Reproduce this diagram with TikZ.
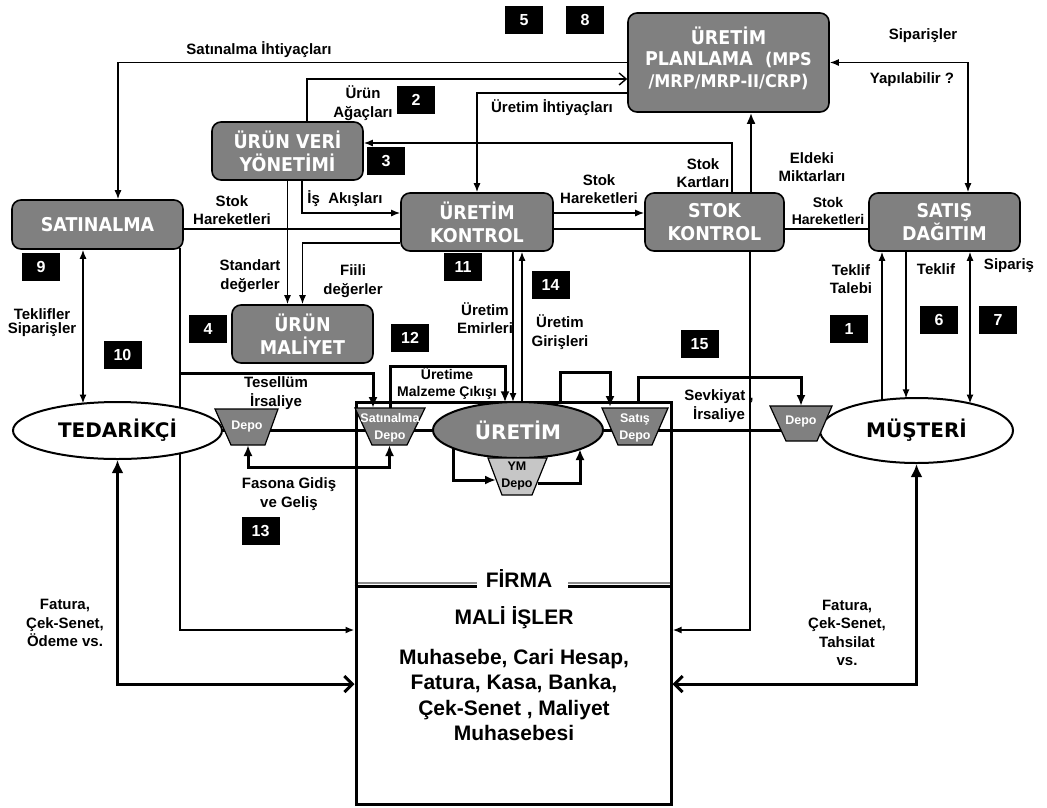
\documentclass[tikz,border=0pt]{standalone}
\usepackage{fontspec}
\setmainfont{Liberation Sans}
\newfontfamily\boxfont{DejaVu Sans}
\newfontfamily\boxnarrow{DejaVu Sans}[FakeStretch=0.92]
\usetikzlibrary{arrows.meta,calc,backgrounds,shapes.geometric}
\definecolor{boxgray}{HTML}{808080}
\definecolor{ymgray}{HTML}{C6C6C6}
\definecolor{rulegray}{HTML}{8C8C8C}

\tikzset{
  smtip/.tip={Latex[length=9pt,width=7pt]},
  mdtip/.tip={Latex[length=11pt,width=9pt]},
  bgtip/.tip={Latex[length=13pt,width=12pt]},
  barbthin/.tip={Straight Barb[length=7pt,width=12pt]},
  barbthick/.tip={Straight Barb[length=8pt,width=16pt]},
  procbox/.style={draw=black, line width=1.6pt, fill=boxgray, rounded corners=9pt,
    text=white, font=\boxnarrow\bfseries\fontsize{19}{23}\selectfont, align=center, inner sep=0pt},
  party/.style={ellipse, draw=black, line width=2pt, fill=white,
    font=\boxfont\bfseries\fontsize{20}{24}\selectfont, inner sep=0pt},
  numbox/.style={fill=black, text=white, font=\bfseries\fontsize{16}{16}\selectfont,
    minimum width=38pt, minimum height=28pt, inner sep=0pt},
  lbl/.style={font=\bfseries\fontsize{15}{18.5}\selectfont, align=center, inner sep=0pt},
  depotxt/.style={text=white, font=\bfseries\fontsize{12.5}{16.5}\selectfont, align=center, inner sep=0pt},
  deposhape/.style={draw=black, line width=1.2pt, fill=boxgray},
  thinln/.style={line width=1.4pt},
  midln/.style={line width=2.2pt},
  thickln/.style={line width=3pt},
  flowln/.style={line width=2.7pt},
}

\begin{document}
\begin{tikzpicture}[x=1pt,y=-1pt]
\useasboundingbox (0,0) rectangle (1047,807);

% ---------- firm frame ----------
\node[draw=black, line width=3pt, minimum width=315pt, minimum height=402pt, inner sep=0pt] (firma) at (513.5,603) {};

% ---------- process boxes ----------
\node[procbox, minimum width=201pt, minimum height=99pt] (plan) at (728.5,62.5) {};
\node[text=white, font=\boxnarrow\bfseries\fontsize{19}{21.5}\selectfont, align=center, inner sep=0pt] (plantxt) at (728.5,58)
  {ÜRETİM\\PLANLAMA~ {\fontsize{17.5}{21.5}\selectfont (MPS}\\{\fontsize{17.5}{21.5}\selectfont /MRP/MRP-II/CRP)}};
\node[procbox, minimum width=151pt, minimum height=58pt] (urunveri) at (287.5,151) {ÜRÜN VERİ\\YÖNETİMİ};
\node[procbox, minimum width=171pt, minimum height=49pt] (satinalma) at (97.5,224.5) {SATINALMA};
\node[procbox, minimum width=152pt, minimum height=58pt] (uretimkontrol) at (477,222) {ÜRETİM\\KONTROL};
\node[procbox, minimum width=139pt, minimum height=58pt] (stokkontrol) at (714.5,222) {STOK\\KONTROL};
\node[procbox, minimum width=151pt, minimum height=58pt] (satis) at (944.5,222) {SATIŞ\\DAĞITIM};
\node[procbox, minimum width=141pt, minimum height=58pt] (maliyet) at (302.5,334) {ÜRÜN\\MALİYET};

% ---------- partners and production ----------
\node[party, minimum width=209pt, minimum height=57pt] (tedarikci) at (117.5,430.5) {TEDARİKÇİ};
\node[party, minimum width=193pt, minimum height=65pt] (musteri) at (916.5,430.5) {MÜŞTERİ};
\node[party, fill=boxgray, text=white, minimum width=170pt, minimum height=56pt] (uretim) at (518,430) {ÜRETİM};

% ---------- stores (trapezoids) ----------
\path[deposhape] (215,409) -- (278,409) -- (265,445) -- (231,445) -- cycle;
\node[depotxt] (depoL) at (247,426) {Depo};
\path[deposhape] (355,408) -- (425,408) -- (407,445) -- (372,445) -- cycle;
\node[depotxt] (depoS) at (390,428) {Satınalma\\Depo};
\path[deposhape] (602,408) -- (668,408) -- (652,445) -- (618,445) -- cycle;
\node[depotxt] (depoT) at (635,428) {Satış\\Depo};
\path[deposhape, fill=ymgray] (488,458) -- (547,458) -- (532,495) -- (502,495) -- cycle;
\node[depotxt, text=black] (depoYM) at (517,476) {YM\\Depo};
\path[deposhape] (770,406) -- (832,406) -- (817,441) -- (786,441) -- cycle;
\node[depotxt] (depoR) at (801,421) {Depo};

\coordinate (dLb) at (248,445);
\coordinate (sDb) at (389.5,445);
\coordinate (sDin) at (373,408);
\coordinate (sDout) at (390,408);
\coordinate (stDin) at (610,407);
\coordinate (dRt) at (801,406);
\coordinate (ymL) at (496,480);
\coordinate (ymR) at (538,483);
\coordinate (tesA) at (180,373);

% ---------- connectors ----------
\begin{pgfonlayer}{background}
\fill[white] (0,0) rectangle (1047,807);

% material flow line
\draw[flowln] (tedarikci.east) -- (musteri.west);

% planning links
\draw[thinln,-smtip] (plan.west) -| ($(satinalma.north)+(20.5,0)$);
\draw[thinln,-barbthin] ($(urunveri.north)+(19.5,0)$) |- ($(plan.west)+(0,16.5)$);
\draw[thinln,-smtip] ($(plan.west)+(0,30.5)$) -| (uretimkontrol.north);
\draw[thinln,-smtip] ($(stokkontrol.north)+(17.5,0)$) |- ($(urunveri.east)+(0,-8)$);
\draw[midln,-mdtip] ($(stokkontrol.north)+(36.5,0)$) -- ($(plan.south)+(22.5,0)$);
\draw[thinln,smtip-smtip] (plan.east) -| ($(satis.north)+(23.5,0)$);

% product data links
\draw[thinln,-smtip] ($(urunveri.south)+(14.5,0)$) |- ($(uretimkontrol.west)+(0,-9)$);
\draw[thinln,-smtip] (urunveri.south) -- ($(maliyet.north)+(-15,0)$);
\draw[thinln,-smtip] ($(uretimkontrol.west)+(0,21)$) -| (maliyet.north);

% stock movement backbone
\draw[midln] ($(satinalma.east)+(0,4.5)$) -- ($(uretimkontrol.west)+(0,7)$);
\draw[midln] ($(uretimkontrol.east)+(0,7)$) -- ($(stokkontrol.west)+(0,7)$);
\draw[midln] ($(stokkontrol.east)+(0,7)$) -- ($(satis.west)+(0,7)$);
\draw[thinln,-smtip] ($(uretimkontrol.east)+(0,-9)$) -- ($(stokkontrol.west)+(0,-9)$);

% purchasing side
\draw[midln,-smtip] ($(satinalma.south)+(82.5,-2)$) |- ($(firma.west)+(0,27)$);
\draw[thickln,-mdtip] (tesA) -| (sDin);
\draw[thinln,smtip-smtip] ($(satinalma.south)+(-14.5,0)$) -- ($(tedarikci.center)+(-34.5,-27)$);
\draw[thickln,bgtip-barbthick] (tedarikci.south) |- ($(firma.west)+(0,81)$);
\draw[thickln,mdtip-mdtip] (dLb) -- ++(0,22) -| (sDb);

% production
\draw[thickln,-mdtip] (sDout) -- ++(0,-42) -| ($(uretim.center)+(-13,-27.7)$);
\draw[thinln,-smtip] ($(uretimkontrol.south)+(36,0)$) -- ($(uretim.center)+(-5,-28)$);
\draw[thinln,-smtip] ($(uretim.center)+(4,-28)$) -- ($(uretimkontrol.south)+(45,0)$);
\draw[thickln,-mdtip] ($(uretim.center)+(-65,18)$) |- (ymL);
\draw[thickln,-mdtip] (ymR) -| ($(uretim.center)+(62,19)$);
\draw[thickln,-mdtip] ($(firma.north)+(46.5,0)$) -- ++(0,-28) -| (stDin);

% sales side
\draw[thickln,-mdtip] ($(firma.north)+(124.5,0)$) -- ++(0,-23) -| (dRt);
\draw[midln,-smtip] ($(stokkontrol.south)+(35.5,0)$) |- ($(firma.east)+(0,27)$);
\draw[thickln,bgtip-barbthick] (musteri.south) |- ($(firma.east)+(0,81)$);
\draw[thinln,-smtip] ($(musteri.center)+(-34.5,-30.4)$) -- ($(satis.south)+(-62.5,0)$);
\draw[thinln,-smtip] ($(satis.south)+(-38.5,0)$) -- ($(musteri.center)+(-10.5,-32.2)$);
\draw[thinln,smtip-smtip] ($(satis.south)+(25.5,0)$) -- ($(musteri.center)+(53.5,-27)$);

% divider inside the firm frame
\draw[rulegray, line width=2.5pt] ($(firma.north west)+(0,182.5)$) -- ++(122,0);
\draw[rulegray, line width=2.5pt] ($(firma.north east)+(0,182.5)$) -- ++(-105,0);
\draw[line width=3pt] ($(firma.north west)+(0,185.5)$) -- ++(122,0);
\draw[line width=3pt] ($(firma.north east)+(0,185.5)$) -- ++(-105,0);
\end{pgfonlayer}

% ---------- firm texts ----------
\node[font=\bfseries\fontsize{21}{25.5}\selectfont, inner sep=0pt] (firmaT) at (519,578) {FİRMA};
\node[font=\bfseries\fontsize{21}{25.5}\selectfont, inner sep=0pt] (mali) at (514,618) {MALİ İŞLER};
\node[font=\bfseries\fontsize{21}{25.5}\selectfont, align=center, inner sep=0pt] (muh) at (514,695)
  {Muhasebe, Cari Hesap,\\Fatura, Kasa, Banka,\\Çek-Senet , Maliyet\\Muhasebesi};

% ---------- flow labels ----------
\node[lbl] (l1) at (259,50) {Satınalma İhtiyaçları};
\node[lbl] (l2) at (363,103) {Ürün\\Ağaçları};
\node[lbl] (l3) at (552,108) {Üretim İhtiyaçları};
\node[lbl] (l4) at (703,173) {Stok\\Kartları};
\node[lbl] (l5) at (812,167) {Eldeki\\Miktarları};
\node[lbl] (l6) at (923,36) {Siparişler};
\node[lbl] (l7) at (912,80) {Yapılabilir ?};
\node[lbl] (l8) at (345,199) {İş~ Akışları};
\node[lbl] (l9) at (232,210) {Stok\\Hareketleri};
\node[lbl] (l10) at (599,189) {Stok\\Hareketleri};
\node[lbl, font=\bfseries\fontsize{14}{17.5}\selectfont] (l11) at (828,211) {Stok\\Hareketleri};
\node[lbl] (l12) at (250,276) {Standart\\değerler};
\node[lbl] (l13) at (353,281) {Fiili\\değerler};
\node[lbl, font=\bfseries\fontsize{15}{14}\selectfont] (l14) at (42,323) {Teklifler\\Siparişler};
\node[lbl] (l15) at (485,318) {Üretim\\Emirleri};
\node[lbl] (l16) at (560,332) {Üretim\\Girişleri};
\node[lbl] (l17) at (851,279) {Teklif\\Talebi};
\node[lbl] (l18) at (936,269) {Teklif};
\node[lbl] (l19) at (1009,266) {Sipariş};
\node[lbl] (l20) at (276,393) {Tesellüm\\İrsaliye};
\node[lbl] (l21) at (289,494) {Fasona Gidiş\\ve Geliş};
\node[lbl, font=\bfseries\fontsize{14}{17}\selectfont] (l22) at (447,383) {Üretime\\Malzeme Çıkışı};
\node[lbl] (l23) at (719,406) {Sevkiyat ,\\İrsaliye};
\node[lbl] (l24) at (65,623) {Fatura,\\Çek-Senet,\\Ödeme vs.};
\node[lbl] (l25) at (847,633) {Fatura,\\Çek-Senet,\\Tahsilat\\vs.};

% ---------- step numbers ----------
\node[numbox] (n1) at (849,328.5) {1};
\node[numbox] (n2) at (416,99.5) {2};
\node[numbox] (n3) at (386,161) {3};
\node[numbox] (n4) at (208,328.5) {4};
\node[numbox] (n5) at (524,20) {5};
\node[numbox] (n6) at (939,320) {6};
\node[numbox] (n7) at (998,320) {7};
\node[numbox] (n8) at (585,20) {8};
\node[numbox] (n9) at (41,267) {9};
\node[numbox] (n10) at (122.5,355) {10};
\node[numbox] (n11) at (463,267) {11};
\node[numbox] (n12) at (410,337.5) {12};
\node[numbox] (n13) at (260.5,531) {13};
\node[numbox] (n14) at (550.5,284.5) {14};
\node[numbox] (n15) at (699.5,344) {15};
\end{tikzpicture}
\end{document}
